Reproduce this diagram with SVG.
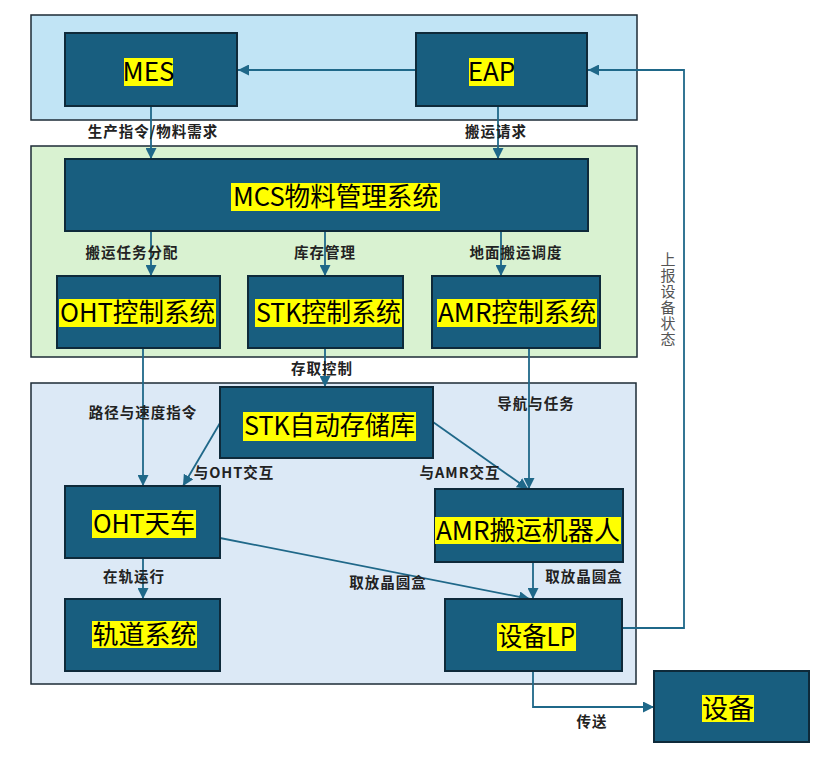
<svg xmlns="http://www.w3.org/2000/svg" width="830" height="760" viewBox="0 0 830 760">
<style>
.cont{stroke:#1c2b36;stroke-width:1.5}
.node{fill:#185e7f;stroke:#0e2a3a;stroke-width:2}
.hl{fill:#ffff00}
.nt{font-family:"Noto Sans CJK SC","Noto Sans",sans-serif;font-size:26px;fill:#000;text-anchor:middle}
.lb{font-family:"Noto Sans CJK SC","Noto Sans",sans-serif;font-size:14.5px;font-weight:bold;fill:#222;text-anchor:middle;letter-spacing:1px}
.vt{font-family:"Noto Sans CJK SC","Noto Sans",sans-serif;font-size:15px;fill:#555;text-anchor:middle;writing-mode:vertical-rl;text-orientation:upright;letter-spacing:1px}
.cn{fill:none;stroke:#1f6889;stroke-width:1.8}
</style>
<defs>
<marker id="ah" viewBox="0 0 10 10" refX="10" refY="5" markerWidth="11" markerHeight="11" markerUnits="userSpaceOnUse" orient="auto"><path d="M0,0 L10,5 L0,10 z" fill="#1f6889"/></marker>
</defs>
<rect width="830" height="760" fill="#ffffff"/>
<g id="layers">
<rect class="cont" x="31" y="15" width="606" height="105" fill="#c1e4f5"/>
<rect class="cont" x="31" y="146" width="606" height="211" fill="#d9f2d1"/>
<rect class="cont" x="31" y="383" width="605" height="301" fill="#dce9f6"/>
</g>
<g id="connectors">
<line class="cn" x1="416" y1="70" x2="238" y2="70" marker-end="url(#ah)"/>
<line class="cn" x1="151" y1="106" x2="151" y2="159" marker-end="url(#ah)"/>
<line class="cn" x1="498" y1="106" x2="498" y2="159" marker-end="url(#ah)"/>
<line class="cn" x1="151" y1="231" x2="151" y2="276" marker-end="url(#ah)"/>
<line class="cn" x1="325" y1="231" x2="325" y2="276" marker-end="url(#ah)"/>
<line class="cn" x1="501" y1="231" x2="501" y2="276" marker-end="url(#ah)"/>
<line class="cn" x1="143" y1="348" x2="143" y2="486" marker-end="url(#ah)"/>
<line class="cn" x1="325" y1="348" x2="325" y2="387" marker-end="url(#ah)"/>
<line class="cn" x1="529" y1="348" x2="529" y2="489" marker-end="url(#ah)"/>
<line class="cn" x1="220" y1="423" x2="183" y2="486" marker-end="url(#ah)"/>
<line class="cn" x1="433" y1="422" x2="528" y2="489" marker-end="url(#ah)"/>
<line class="cn" x1="220" y1="538" x2="530" y2="599" marker-end="url(#ah)"/>
<line class="cn" x1="143" y1="558" x2="143" y2="599" marker-end="url(#ah)"/>
<line class="cn" x1="533" y1="562" x2="533" y2="599" marker-end="url(#ah)"/>
<polyline class="cn" points="533,671 533,707 654,707" marker-end="url(#ah)"/>
<polyline class="cn" points="622,628 684,628 684,70 588,70" marker-end="url(#ah)"/>
</g>
<g id="labels">
<text class="lb" x="153" y="137">生产指令/物料需求</text>
<text class="lb" x="496" y="137">搬运请求</text>
<text class="lb" x="132" y="258">搬运任务分配</text>
<text class="lb" x="325" y="258">库存管理</text>
<text class="lb" x="516" y="258">地面搬运调度</text>
<text class="lb" x="322" y="374">存取控制</text>
<text class="lb" x="143" y="418">路径与速度指令</text>
<text class="lb" x="536" y="409">导航与任务</text>
<text class="lb" x="234" y="478">与OHT交互</text>
<text class="lb" x="460" y="478">与AMR交互</text>
<text class="lb" x="134" y="582">在轨运行</text>
<text class="lb" x="388" y="588">取放晶圆盒</text>
<text class="lb" x="584" y="582">取放晶圆盒</text>
<text class="lb" x="592" y="727">传送</text>
<text class="vt" x="668" y="300">上报设备状态</text>
</g>
<g id="MES"><rect class="node" x="65" y="33" width="172" height="73"/><rect class="hl" x="124" y="58" width="49" height="28"/><text class="nt" x="148.5" y="81">MES</text></g>
<g id="EAP"><rect class="node" x="416" y="33" width="171" height="73"/><rect class="hl" x="469" y="58" width="45" height="28"/><text class="nt" x="491.5" y="81">EAP</text></g>
<g id="MCS"><rect class="node" x="65" y="159" width="523" height="72"/><rect class="hl" x="231" y="183" width="209" height="28"/><text class="nt" x="335.5" y="206" textLength="205" lengthAdjust="spacingAndGlyphs">MCS物料管理系统</text></g>
<g id="OHTCtrl"><rect class="node" x="57" y="276" width="163" height="72"/><rect class="hl" x="59" y="299" width="157" height="28"/><text class="nt" x="137.5" y="322" textLength="155" lengthAdjust="spacingAndGlyphs">OHT控制系统</text></g>
<g id="STKCtrl"><rect class="node" x="248" y="276" width="155" height="72"/><rect class="hl" x="255" y="299" width="147" height="28"/><text class="nt" x="328.5" y="322" textLength="145" lengthAdjust="spacingAndGlyphs">STK控制系统</text></g>
<g id="AMRCtrl"><rect class="node" x="432" y="276" width="168" height="72"/><rect class="hl" x="437" y="299" width="160" height="28"/><text class="nt" x="517" y="322" textLength="158" lengthAdjust="spacingAndGlyphs">AMR控制系统</text></g>
<g id="STK"><rect class="node" x="220" y="387" width="213" height="71"/><rect class="hl" x="243" y="412" width="173" height="29"/><text class="nt" x="329.5" y="435" textLength="171" lengthAdjust="spacingAndGlyphs">STK自动存储库</text></g>
<g id="OHT"><rect class="node" x="65" y="486" width="155" height="72"/><rect class="hl" x="92" y="510" width="104" height="28"/><text class="nt" x="144" y="533" textLength="102" lengthAdjust="spacingAndGlyphs">OHT天车</text></g>
<g id="Rail"><rect class="node" x="65" y="599" width="155" height="72"/><rect class="hl" x="92" y="621" width="105" height="27"/><text class="nt" x="144.5" y="644">轨道系统</text></g>
<g id="AMR"><rect class="node" x="435" y="489" width="188" height="73"/><rect class="hl" x="435" y="517" width="186" height="27"/><text class="nt" x="528" y="540" textLength="184" lengthAdjust="spacingAndGlyphs">AMR搬运机器人</text></g>
<g id="LP"><rect class="node" x="445" y="599" width="177" height="72"/><rect class="hl" x="497" y="623" width="79" height="28"/><text class="nt" x="536.5" y="646" textLength="77" lengthAdjust="spacingAndGlyphs">设备LP</text></g>
<g id="Equip"><rect class="node" x="654" y="671" width="155" height="71"/><rect class="hl" x="702" y="695" width="52" height="27"/><text class="nt" x="728" y="718">设备</text></g>
</svg>
